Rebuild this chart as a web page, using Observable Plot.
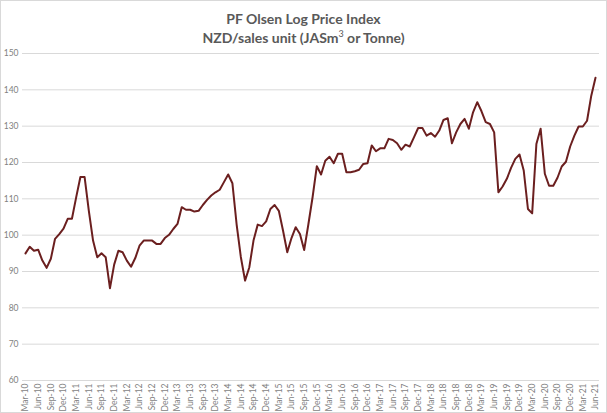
<!DOCTYPE html>
<html>
<head>
<meta charset="utf-8">
<script src="https://cdn.jsdelivr.net/npm/d3@7"></script>
<script src="https://cdn.jsdelivr.net/npm/@observablehq/plot@0.6"></script>
<style>
  html, body { margin: 0; padding: 0; background: #fff; }
  #wrap { width: 607px; height: 413px; box-sizing: border-box; border: 1px solid #d9d9d9; overflow: hidden; }
  #title { height: 44px; box-sizing: border-box; padding-top: 7.5px; text-align: center; font-family: Lato, "Open Sans", sans-serif; font-weight: bold; font-size: 14px; line-height: 19px; color: #595959; }
</style>
</head>
<body>
<div id="wrap">
  <div id="title">PF Olsen Log Price Index<br>NZD/sales unit (JASm<sup style="font-size:9px;line-height:0;font-weight:normal">3</sup> or Tonne)</div>
  <div id="chart"></div>
</div>
<script>
// Monthly series, Mar-2010 .. Jun-2021
const startMonth = "2010-03";
const priceIndex = [
  95.0, 96.8, 95.7, 96.0, 93.0, 91.0, 93.5, 99.0, 100.3, 101.8, 104.5, 104.5,
  110.4, 116.0, 116.0, 106.7, 98.5, 93.9, 95.0, 93.9, 85.4, 91.9, 95.7, 95.3,
  93.0, 91.3, 93.7, 97.1, 98.5, 98.5, 98.5, 97.6, 97.6, 99.2, 100.1, 101.7,
  103.1, 107.7, 107.0, 107.0, 106.5, 106.7, 108.3, 109.7, 110.9, 111.8, 112.5, 114.6,
  116.7, 114.3, 103.0, 94.0, 87.5, 91.1, 98.5, 102.9, 102.5, 103.8, 107.2, 108.3,
  106.7, 101.2, 95.3, 99.2, 102.2, 100.3, 95.9, 103.0, 110.5, 119.0, 116.7, 120.5,
  121.6, 119.8, 122.4, 122.4, 117.3, 117.3, 117.6, 118.0, 119.6, 119.8, 124.7, 123.1,
  123.9, 123.9, 126.5, 126.2, 125.3, 123.5, 124.9, 124.4, 126.9, 129.5, 129.5, 127.4,
  128.1, 127.1, 128.8, 131.7, 132.2, 125.3, 128.3, 130.6, 132.0, 129.3, 133.8, 136.6,
  134.1, 131.1, 130.6, 128.3, 111.8, 113.4, 115.5, 118.5, 121.0, 122.2, 117.8, 107.2,
  106.0, 125.1, 129.3, 116.9, 113.6, 113.6, 115.8, 118.9, 120.2, 124.4, 127.4, 129.9,
  129.9, 131.5, 138.4, 143.3
];
const yTicks = [60, 70, 80, 90, 100, 110, 120, 130, 140, 150];

const fmt = d3.utcFormat("%b-%y");
const start = d3.utcParse("%Y-%m")(startMonth);
const monthLabels = priceIndex.map((_, i) => fmt(d3.utcMonth.offset(start, i)));
const data = priceIndex.map((v, i) => ({month: monthLabels[i], value: v}));
const xTicks = monthLabels.filter((_, i) => i % 3 === 0);

const chart = Plot.plot({
  width: 605,
  height: 367,
  marginTop: 8,
  marginBottom: 32,
  marginLeft: 24,
  marginRight: 11,
  style: {fontFamily: "Lato, 'Open Sans', sans-serif", background: "transparent"},
  x: {type: "point", domain: monthLabels, padding: 0},
  y: {domain: [60, 150]},
  marks: [
    Plot.ruleY(yTicks, {stroke: "#d9d9d9", strokeWidth: 1, insetLeft: -3, insetRight: -4}),
    Plot.axisY({ticks: yTicks, tickSize: 0, tickPadding: 7, fontSize: 8.5, color: "#7f7f7f", label: null}),
    Plot.axisX({ticks: xTicks, tickSize: 0, tickPadding: 3, tickRotate: -90, fontSize: 8.5, color: "#7f7f7f", label: null}),
    Plot.line(data, {x: "month", y: "value", stroke: "#6b1f1f", strokeWidth: 2, strokeLinejoin: "round"})
  ]
});
document.getElementById("chart").appendChild(chart);
</script>
</body>
</html>
